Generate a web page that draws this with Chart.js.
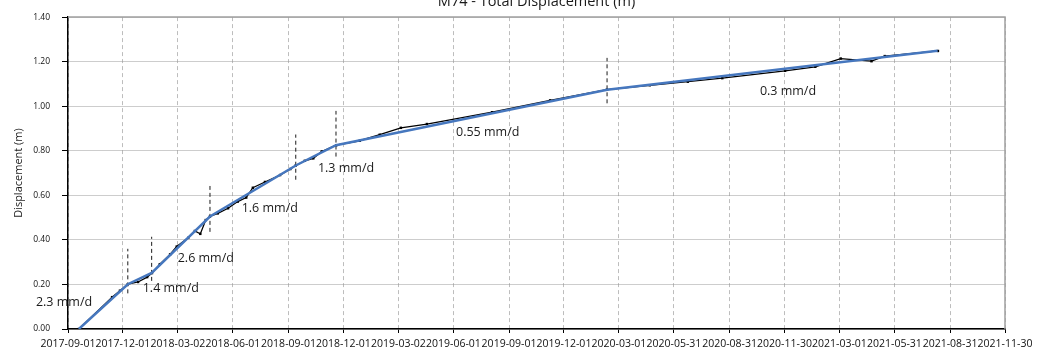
<!DOCTYPE html>
<html>
<head>
<meta charset="utf-8">
<script src="https://cdn.jsdelivr.net/npm/chart.js@4.4.0/dist/chart.umd.min.js"></script>
<style>
  html, body { margin: 0; padding: 0; background: #ffffff; }
  #wrap { width: 1053px; height: 353px; }
</style>
</head>
<body>
<div id="wrap"><canvas id="c" width="1053" height="353"></canvas></div>
<script>
// ---------------- DATA ----------------
const chartTitle = 'M74 - Total Displacement (m)';
const yAxisTitle = 'Displacement (m)';
const startDate = '2017-09-01';

// x-axis tick labels (dates)
const tickDates = [
  '2017-09-01','2017-12-01','2018-03-02','2018-06-01','2018-09-01','2018-12-01',
  '2019-03-02','2019-06-01','2019-09-01','2019-12-01','2020-03-01','2020-05-31',
  '2020-08-31','2020-11-30','2021-03-01','2021-05-31','2021-08-31','2021-11-30'
];
const yMin = 0, yMax = 1.4, yStep = 0.2;

// measured total displacement (days since 2017-09-01, metres)
const surveyDays = [18, 73, 86, 99, 116, 131, 139, 152, 169, 180, 199, 210, 219, 228, 235, 248, 265,
  281, 295, 306, 326, 351, 368, 377, 392, 406, 420, 444, 483, 516, 551, 594, 702, 798, 892, 963,
  1026, 1083, 1187, 1237, 1279, 1330, 1352, 1440];
const surveyDisp = [0.000, 0.143, 0.172, 0.201, 0.211, 0.233, 0.251, 0.291, 0.335, 0.370, 0.409, 0.440, 0.427,
  0.489, 0.505, 0.519, 0.542, 0.572, 0.590, 0.634, 0.660, 0.691, 0.718, 0.734, 0.755, 0.766, 0.797,
  0.825, 0.845, 0.872, 0.903, 0.920, 0.973, 1.026, 1.074, 1.094, 1.110, 1.126, 1.159, 1.177, 1.214,
  1.202, 1.225, 1.248];

// piecewise linear fit (blue)
const fitDays = [18, 99, 138.5, 235, 377, 443.6, 892.5, 1439.5];
const fitDisp = [0.000, 0.201, 0.252, 0.505, 0.734, 0.825, 1.074, 1.249];

// breakpoint markers (dashed vertical segments)
const breakDays = [99, 138.5, 235, 377, 443.6, 892.3];
const breakLow  = [0.160, 0.216, 0.436, 0.670, 0.774, 1.013];
const breakHigh = [0.360, 0.414, 0.642, 0.873, 0.979, 1.217];

// rate annotations
const rateLabels = ['2.3 mm/d', '1.4 mm/d', '2.6 mm/d', '1.6 mm/d', '1.3 mm/d', '0.55 mm/d', '0.3 mm/d'];
const rateLabelDay  = [-6.6, 170.2, 228.1, 334, 460.2, 694.7, 1191.8];
const rateLabelDisp = [0.120, 0.184, 0.316, 0.542, 0.719, 0.884, 1.067];

// ---------------- BUILD ----------------
const DAY = 86400000;
const dayOf = s => Math.round((Date.parse(s) - Date.parse(startDate)) / DAY);
const tickValues = tickDates.map(dayOf);
const xy = (xs, ys) => xs.map((x, i) => ({ x: x, y: ys[i] }));

const breakSets = breakDays.map((d, i) => ({
  label: 'break' + i,
  data: [{ x: d, y: breakLow[i] }, { x: d, y: breakHigh[i] }],
  showLine: true,
  borderColor: '#1a1a1a',
  borderWidth: 1,
  borderDash: [4, 3],
  pointRadius: 0,
  order: 3
}));

const annotationPlugin = {
  id: 'annots',
  afterDatasetsDraw(chart) {
    const { ctx, scales: { x, y } } = chart;
    ctx.save();
    ctx.fillStyle = '#1a1a1a';
    ctx.font = '12.5px "Open Sans"';
    ctx.textAlign = 'center';
    ctx.textBaseline = 'middle';
    rateLabels.forEach((t, i) => {
      ctx.fillText(t, x.getPixelForValue(rateLabelDay[i]), y.getPixelForValue(rateLabelDisp[i]));
    });
    ctx.restore();
  },
  afterDraw(chart) {
    const { ctx, chartArea: a } = chart;
    ctx.save();
    // top & right frame
    ctx.strokeStyle = '#a0a0a0';
    ctx.lineWidth = 1.5;
    ctx.beginPath();
    ctx.moveTo(a.left, a.top);
    ctx.lineTo(a.right, a.top);
    ctx.lineTo(a.right, a.bottom);
    ctx.stroke();
    // title (partly cut off at the top)
    ctx.fillStyle = '#1a1a1a';
    ctx.font = '14.5px "Open Sans"';
    ctx.textAlign = 'center';
    ctx.textBaseline = 'alphabetic';
    ctx.fillText(chartTitle, (a.left + a.right) / 2, 6);
    ctx.restore();
  }
};

new Chart(document.getElementById('c'), {
  type: 'scatter',
  data: {
    datasets: [
      {
        label: 'Fit',
        data: xy(fitDays, fitDisp),
        showLine: true,
        borderColor: '#4677be',
        borderWidth: 2.5,
        pointRadius: 0,
        order: 1
      },
      {
        label: 'Measured',
        data: xy(surveyDays, surveyDisp),
        showLine: true,
        borderColor: '#000000',
        borderWidth: 1.3,
        pointRadius: 0.8,
        pointStyle: 'rect',
        pointBackgroundColor: '#000000',
        pointBorderColor: '#000000',
        order: 2
      },
      ...breakSets
    ]
  },
  options: {
    responsive: false,
    animation: false,
    devicePixelRatio: 1,
    layout: { padding: { top: 11, right: 48, left: 0, bottom: 0 } },
    plugins: {
      legend: { display: false },
      tooltip: { enabled: false },
      title: { display: false }
    },
    scales: {
      x: {
        type: 'linear',
        min: tickValues[0],
        max: tickValues[tickValues.length - 1],
        afterBuildTicks: s => { s.ticks = tickValues.map(v => ({ value: v })); },
        afterFit: s => { s.height = 24; },
        ticks: {
          autoSkip: false,
          maxRotation: 0,
          minRotation: 0,
          padding: 5,
          color: '#111111',
          font: { family: 'Open Sans', size: 10.5 },
          callback: (v, i) => tickDates[i]
        },
        grid: {
          color: '#bdbdbd',
          lineWidth: 1,
          tickLength: 4,
          tickColor: '#000000',
          tickWidth: 1,
          tickBorderDash: []
        },
        border: { display: true, color: '#000000', width: 1.5, dash: [4, 3] }
      },
      y: {
        type: 'linear',
        min: yMin,
        max: yMax,
        afterFit: s => { s.width = 68; },
        ticks: {
          stepSize: yStep,
          padding: 12,
          color: '#111111',
          font: { family: 'Open Sans', size: 8.5 },
          callback: v => Number(v).toFixed(2)
        },
        grid: {
          color: '#9a9a9a',
          lineWidth: 1,
          tickLength: 6,
          tickColor: '#000000',
          tickWidth: 1,
          tickBorderDash: []
        },
        border: { display: true, color: '#000000', width: 1.5, dash: [1, 1] },
        title: {
          display: true,
          text: yAxisTitle,
          color: '#1a1a1a',
          font: { family: 'Open Sans', size: 11 },
          padding: { top: 12, bottom: 0 }
        }
      }
    }
  },
  plugins: [annotationPlugin]
});
</script>
</body>
</html>
